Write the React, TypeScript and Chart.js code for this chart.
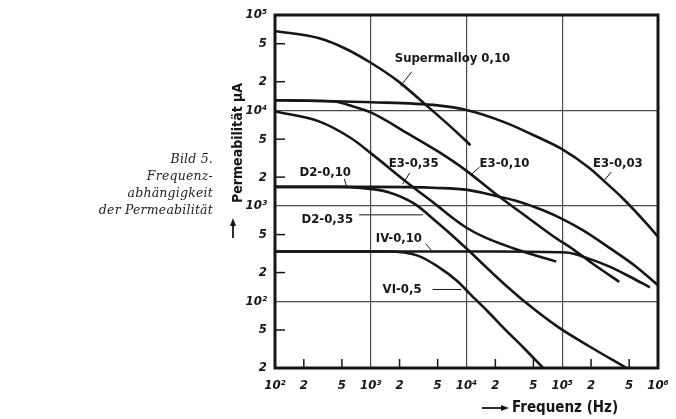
import React, { useEffect, useRef } from "react";
import { Chart, registerables } from "chart.js";

Chart.register(...registerables);

// ---- data (frequency in Hz, permeability µA) ----
const supermalloyFreq = [100, 290, 540, 1000, 1910, 3930, 7140, 11000];
const supermalloyMu = [68000, 57000, 44600, 31600, 20400, 11000, 6490, 4320];

const e3003Freq = [100, 1000, 4990, 10000, 25100, 55900, 97500, 189000, 287000, 425000, 764000, 1000000];
const e3003Mu = [12800, 12200, 11300, 10100, 7500, 5230, 3970, 2520, 1740, 1210, 649, 475];

const e3010Freq = [100, 409, 655, 1000, 2610, 4990, 9770, 20200, 41800, 80400, 131000, 214000, 394000];
const e3010Mu = [12800, 12400, 11000, 9530, 5500, 3740, 2370, 1330, 778, 481, 348, 243, 160];

const e3035Freq = [100, 288, 625, 1000, 2430, 4990, 7140, 10000, 15800, 36100, 86500];
const e3035Mu = [9770, 7680, 5110, 3570, 1740, 1000, 750, 590, 464, 340, 261];

const d2010Freq = [100, 1000, 4990, 10200, 16600, 36100, 63100, 102000, 167000, 308000, 569000, 1000000];
const d2010Mu = [1580, 1580, 1540, 1470, 1330, 1100, 898, 722, 549, 365, 237, 147];

const d2035Freq = [100, 460, 790, 1500, 2870, 4990, 7140, 10000, 18800, 25100, 43800, 90800, 189000, 468000];
const d2035Mu = [1580, 1580, 1540, 1400, 1050, 665, 487, 357, 196, 150, 93, 53.6, 34, 20];

const iv010Freq = [100, 1910, 21200, 110000, 189000, 308000, 504000, 823000];
const iv010Mu = [332, 332, 332, 324, 280, 232, 182, 140];

const vi05Freq = [100, 1500, 3090, 4990, 8050, 11000, 16600, 25100, 38800, 63100];
const vi05Mu = [332, 332, 301, 232, 162, 118, 78.7, 51.1, 33.2, 20];

const seriesFreqs = [supermalloyFreq, e3003Freq, e3010Freq, e3035Freq, d2010Freq, d2035Freq, iv010Freq, vi05Freq];
const seriesMus = [supermalloyMu, e3003Mu, e3010Mu, e3035Mu, d2010Mu, d2035Mu, iv010Mu, vi05Mu];
const seriesNames = ["Supermalloy 0,10", "E3-0,03", "E3-0,10", "E3-0,35", "D2-0,10", "D2-0,35", "IV-0,10", "VI-0,5"];

// ---- ticks ----
const xTickValues = [100, 200, 500, 1000, 2000, 5000, 10000, 20000, 50000, 100000, 200000, 500000, 1000000];
const yTickValues = [20, 50, 100, 200, 500, 1000, 2000, 5000, 10000, 20000, 50000, 100000];

// ---- curve labels (anchor in data coordinates) ----
const labelTexts = ["Supermalloy 0,10", "E3-0,35", "E3-0,10", "E3-0,03", "D2-0,10", "D2-0,35", "IV-0,10", "VI-0,5"];
const labelFreqs = [1780, 1540, 13700, 209000, 180, 189, 1130, 1330];
const labelMus = [34900, 2800, 2800, 2800, 2210, 714, 453, 133];
// leader lines: [f1, mu1, f2, mu2]
const leaderLines = [
  [2670, 25300, 2050, 18000],
  [2550, 2210, 2150, 1690],
  [13700, 2550, 11000, 2100],
  [324000, 2260, 267000, 1780],
  [530, 1910, 556, 1620],
  [755, 805, 3500, 805],
  [3740, 402, 4320, 340],
  [4430, 133, 8870, 133],
];

const SUP: Record<number, string> = { 1: "¹", 2: "²", 3: "³", 4: "⁴", 5: "⁵", 6: "⁶" };
const expOf = (v: number) => Math.floor(Math.log10(v) + 1e-9);
const isDecade = (v: number) => Math.abs(v / Math.pow(10, expOf(v)) - 1) < 1e-6;
const tickLabel = (v: number) => {
  const e = expOf(v);
  const m = Math.round(v / Math.pow(10, e));
  return m === 1 ? "10" + SUP[e] : String(m);
};

const INK = "#161616";
const FAMILY = '"DejaVu Sans Condensed", "DejaVu Sans", sans-serif';
const LABEL_FONT = "bold 13px " + FAMILY;

const overlayPlugin = {
  id: "overlay",
  afterDraw(chart: any) {
    const { ctx, chartArea: ca, scales } = chart;
    const xs = scales.x;
    const ys = scales.y;
    ctx.save();
    ctx.strokeStyle = INK;
    ctx.fillStyle = INK;
    // minor tick marks inside
    ctx.lineWidth = 1.5;
    for (const v of xTickValues) {
      if (isDecade(v)) continue;
      const px = xs.getPixelForValue(v);
      ctx.beginPath();
      ctx.moveTo(px, ca.bottom);
      ctx.lineTo(px, ca.bottom - 9);
      ctx.stroke();
    }
    for (const v of yTickValues) {
      if (isDecade(v)) continue;
      const py = ys.getPixelForValue(v);
      ctx.beginPath();
      ctx.moveTo(ca.left, py);
      ctx.lineTo(ca.left + 10, py);
      ctx.stroke();
    }
    // frame
    ctx.lineWidth = 3;
    ctx.strokeRect(ca.left, ca.top, ca.right - ca.left, ca.bottom - ca.top);

    // curve labels
    ctx.font = LABEL_FONT;
    ctx.textAlign = "left";
    ctx.textBaseline = "middle";
    labelTexts.forEach((t, i) => {
      ctx.fillText(t, xs.getPixelForValue(labelFreqs[i]), ys.getPixelForValue(labelMus[i]));
    });
    ctx.lineWidth = 1;
    for (const [f1, m1, f2, m2] of leaderLines) {
      ctx.beginPath();
      ctx.moveTo(xs.getPixelForValue(f1), ys.getPixelForValue(m1));
      ctx.lineTo(xs.getPixelForValue(f2), ys.getPixelForValue(m2));
      ctx.stroke();
    }

    // y axis title (rotated) + arrow
    ctx.save();
    ctx.translate(ca.left - 37, 203);
    ctx.rotate(-Math.PI / 2);
    ctx.font = "bold 14px " + FAMILY;
    ctx.textAlign = "left";
    ctx.textBaseline = "middle";
    ctx.fillText("Permeabilität μA", 0, 0);
    ctx.restore();
    const ax = ca.left - 42;
    ctx.lineWidth = 1.8;
    ctx.beginPath();
    ctx.moveTo(ax, 238);
    ctx.lineTo(ax, 224);
    ctx.stroke();
    ctx.beginPath();
    ctx.moveTo(ax, 218);
    ctx.lineTo(ax - 3, 226);
    ctx.lineTo(ax + 3, 226);
    ctx.closePath();
    ctx.fill();

    // x axis title + arrow
    const ty = 408;
    ctx.beginPath();
    ctx.moveTo(482, ty);
    ctx.lineTo(503, ty);
    ctx.stroke();
    ctx.beginPath();
    ctx.moveTo(509, ty);
    ctx.lineTo(501, ty - 3);
    ctx.lineTo(501, ty + 3);
    ctx.closePath();
    ctx.fill();
    ctx.font = "bold 15px " + FAMILY;
    ctx.textAlign = "left";
    ctx.fillText("Frequenz (Hz)", 512, ty);
    ctx.restore();
  },
};

export default function App() {
  const canvasRef = useRef<HTMLCanvasElement | null>(null);

  useEffect(() => {
    if (!canvasRef.current) return;
    const datasets = seriesFreqs.map((fs, i) => ({
      label: seriesNames[i],
      data: fs.map((f, j) => ({ x: f, y: seriesMus[i][j] })),
      borderColor: INK,
      borderWidth: 2.6,
      pointRadius: 0,
      fill: false,
      cubicInterpolationMode: "monotone" as const,
    }));
    const tickFont = { family: FAMILY, size: 13, style: "italic" as const, weight: "bold" as const };
    const gridColor = (c: any) => (c.tick && isDecade(c.tick.value) ? "#4a4a4a" : "rgba(0,0,0,0)");
    const chart = new Chart(canvasRef.current, {
      type: "line",
      data: { datasets },
      plugins: [overlayPlugin],
      options: {
        responsive: false,
        animation: false,
        layout: { padding: { left: 230, right: 18, top: 15, bottom: 11 } },
        plugins: { legend: { display: false }, tooltip: { enabled: false }, title: { display: false } },
        scales: {
          x: {
            type: "logarithmic",
            min: 100,
            max: 1000000,
            afterBuildTicks: (s: any) => {
              s.ticks = xTickValues.map((v) => ({ value: v }));
            },
            afterFit: (s: any) => {
              s.height = 40;
              s.paddingLeft = 0;
              s.paddingRight = 0;
            },
            grid: { color: gridColor, lineWidth: 1.2, drawTicks: false },
            border: { display: false },
            ticks: {
              autoSkip: false,
              maxRotation: 0,
              padding: 10,
              color: INK,
              font: tickFont,
              callback: (v: any) => tickLabel(Number(v)),
            },
          },
          y: {
            type: "logarithmic",
            min: 20,
            max: 100000,
            afterBuildTicks: (s: any) => {
              s.ticks = yTickValues.map((v) => ({ value: v }));
            },
            afterFit: (s: any) => {
              s.width = 45;
              s.paddingTop = 0;
              s.paddingBottom = 0;
            },
            grid: { color: gridColor, lineWidth: 1.2, drawTicks: false },
            border: { display: false },
            ticks: {
              autoSkip: false,
              padding: 8,
              color: INK,
              font: tickFont,
              callback: (v: any) => tickLabel(Number(v)),
            },
          },
        },
      },
    });
    return () => chart.destroy();
  }, []);

  return (
    <div style={{ position: "fixed", left: 0, top: 0, width: 676, height: 419, background: "#fff" }}>
      <canvas ref={canvasRef} width={676} height={419} style={{ display: "block", width: 676, height: 419 }} />
      <div
        style={{
          position: "absolute",
          left: 0,
          top: 150,
          width: 213,
          textAlign: "right",
          font: 'italic 12.5px "DejaVu Serif", serif',
          lineHeight: "17px",
          color: "#222",
          letterSpacing: "0.2px",
        }}
      >
        <div>Bild 5.</div>
        <div>Frequenz-</div>
        <div>abhängigkeit</div>
        <div>der Permeabilität</div>
      </div>
    </div>
  );
}
